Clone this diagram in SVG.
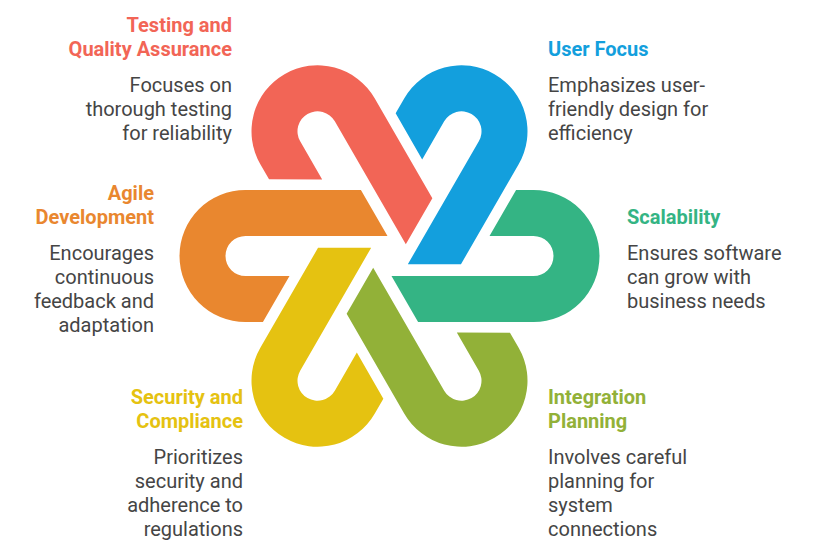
<svg xmlns="http://www.w3.org/2000/svg" width="817" height="556" viewBox="0 0 817 556">
<style>
.t{font-family:Roboto,"Liberation Sans",sans-serif;font-size:20px;font-weight:bold}
.b{font-family:Roboto,"Liberation Sans",sans-serif;font-size:20px;fill:#454545}
.r{text-anchor:end}
</style>
<defs>
<path id="hook" d="M2,20 L144,20 A20,20 0 0 0 144,-20 L100,-20 L126.6,-66 L144,-66 A66,66 0 0 1 144,66 L28.6,66 Z"/>
</defs>
<rect width="817" height="556" fill="#fff"/>
<g id="connectors"/>
<g transform="translate(389.5,256)">
<g id="scalability"><use href="#hook" fill="#34B484"/></g>
<g id="user-focus"><use href="#hook" fill="#139FDD" transform="rotate(-60)"/></g>
<g id="testing"><use href="#hook" fill="#F26556" transform="rotate(-120)"/></g>
<g id="agile"><use href="#hook" fill="#E9872F" transform="rotate(180)"/></g>
<g id="security"><use href="#hook" fill="#E5C211" transform="rotate(120)"/></g>
<g id="integration"><use href="#hook" fill="#92B138" transform="rotate(60)"/></g>
</g>
<g id="label-testing">
<text class="t r" fill="#F26556" x="232" y="32">Testing and</text>
<text class="t r" fill="#F26556" x="232" y="56">Quality Assurance</text>
<text class="b r" x="232" y="92">Focuses on</text>
<text class="b r" x="232" y="116">thorough testing</text>
<text class="b r" x="232" y="140">for reliability</text>
</g>
<g id="label-agile">
<text class="t r" fill="#E9872F" x="154" y="200">Agile</text>
<text class="t r" fill="#E9872F" x="154" y="224">Development</text>
<text class="b r" x="154" y="260">Encourages</text>
<text class="b r" x="154" y="284">continuous</text>
<text class="b r" x="154" y="308">feedback and</text>
<text class="b r" x="154" y="332">adaptation</text>
</g>
<g id="label-security">
<text class="t r" fill="#E5C211" x="243" y="404">Security and</text>
<text class="t r" fill="#E5C211" x="243" y="428">Compliance</text>
<text class="b r" x="243" y="464">Prioritizes</text>
<text class="b r" x="243" y="488">security and</text>
<text class="b r" x="243" y="512">adherence to</text>
<text class="b r" x="243" y="536">regulations</text>
</g>
<g id="label-user">
<text class="t" fill="#139FDD" x="548" y="56">User Focus</text>
<text class="b" x="548" y="92">Emphasizes user-</text>
<text class="b" x="548" y="116">friendly design for</text>
<text class="b" x="548" y="140">efficiency</text>
</g>
<g id="label-scal">
<text class="t" fill="#34B484" x="627" y="224">Scalability</text>
<text class="b" x="627" y="260">Ensures software</text>
<text class="b" x="627" y="284">can grow with</text>
<text class="b" x="627" y="308">business needs</text>
</g>
<g id="label-int">
<text class="t" fill="#92B138" x="548" y="404">Integration</text>
<text class="t" fill="#92B138" x="548" y="428">Planning</text>
<text class="b" x="548" y="464">Involves careful</text>
<text class="b" x="548" y="488">planning for</text>
<text class="b" x="548" y="512">system</text>
<text class="b" x="548" y="536">connections</text>
</g>
</svg>
